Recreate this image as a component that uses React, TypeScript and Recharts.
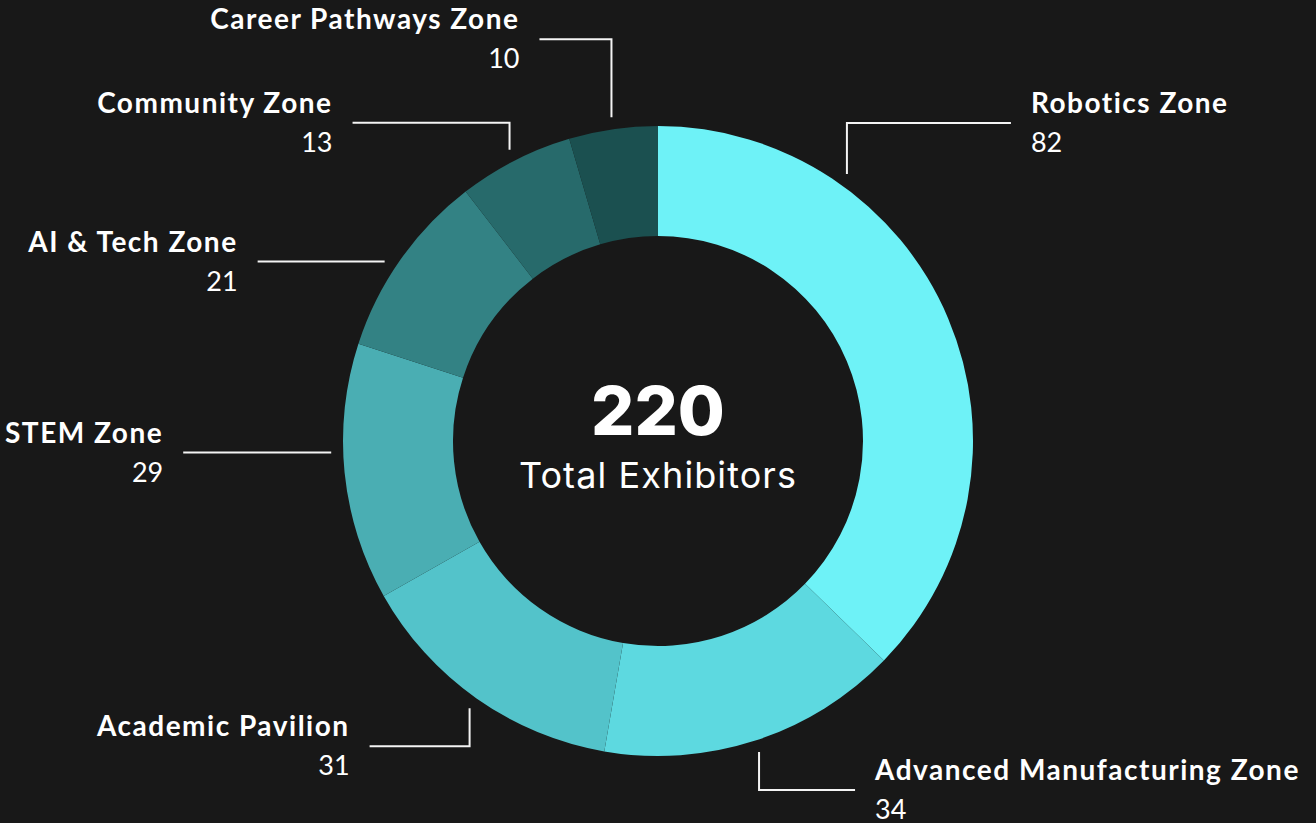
import { PieChart, Pie, Cell } from 'recharts'

const zones = [
  'Robotics Zone',
  'Advanced Manufacturing Zone',
  'Academic Pavilion',
  'STEM Zone',
  'AI & Tech Zone',
  'Community Zone',
  'Career Pathways Zone',
]
const exhibitors = [82, 34, 31, 29, 21, 13, 10]
const zoneColors = ['#6ef2f7', '#5dd9e0', '#53c3ca', '#4aaeb3', '#338284', '#276a6b', '#1b5050']

// leader line layout, per slice: angle nudge (deg, clockwise), vertical leg, horizontal leg
const labelNudge = [-31.8, 0, 0, 3.7, -1.9, 0, 0]
const labelRise = [51, 38, 38, 0, 0, 27, 78]
const labelRun = [164, 96, 100, 148, 127, 157, 72]

const W = 1316
const H = 823
const CX = 658
const CY = 441
const RAD = Math.PI / 180

const data = zones.map((zone, i) => ({ zone, count: exhibitors[i] }))
const total = exhibitors.reduce((a, b) => a + b, 0)

function ZoneLabel(props: any) {
  const { cx, cy, midAngle, outerRadius } = props
  const name = props.zone ?? props.name ?? props.payload?.zone
  const i = zones.indexOf(name)
  if (i < 0) return null
  const a = midAngle - labelNudge[i]
  const r = outerRadius + 12
  const sx = cx + r * Math.cos(-a * RAD)
  const sy = cy + r * Math.sin(-a * RAD)
  const dirX = sx >= cx ? 1 : -1
  const dirY = sy >= cy ? 1 : -1
  const ey = sy + dirY * labelRise[i]
  const ex = sx + dirX * labelRun[i]
  const tx = ex + dirX * 20
  const anchor = dirX > 0 ? 'start' : 'end'
  return (
    <g>
      <polyline
        points={`${sx},${sy} ${sx},${ey} ${ex},${ey}`}
        fill="none"
        stroke="#f4f4f4"
        strokeWidth={2}
      />
      <text x={tx} y={ey - 10} textAnchor={anchor} fill="#ffffff"
        style={{ fontFamily: 'Lato, sans-serif', fontWeight: 700, fontSize: 28, letterSpacing: 1.5 }}>
        {zones[i]}
      </text>
      <text x={tx} y={ey + 29} textAnchor={anchor} fill="#ffffff"
        style={{ fontFamily: 'Lato, sans-serif', fontWeight: 400, fontSize: 27 }}>
        {exhibitors[i]}
      </text>
    </g>
  )
}

export default function App() {
  return (
    <div style={{ position: 'absolute', left: 0, top: 0, width: W, height: H, background: '#181818' }}>
      <PieChart width={W} height={H} margin={{ top: 0, right: 0, bottom: 0, left: 0 }}>
        <Pie
          data={data}
          dataKey="count"
          nameKey="zone"
          cx={CX}
          cy={CY}
          innerRadius={205}
          outerRadius={315}
          startAngle={90}
          endAngle={-270}
          stroke="none"
          label={ZoneLabel}
          labelLine={false}
          isAnimationActive={false}
        >
          {data.map((d, i) => (
            <Cell key={d.zone} fill={zoneColors[i]} />
          ))}
        </Pie>
        <text x={CX} y={CY - 6} textAnchor="middle" fill="#ffffff"
          style={{ fontFamily: 'Inter, sans-serif', fontWeight: 800, fontSize: 68 }}>
          {total}
        </text>
        <text x={CX} y={CY + 47} textAnchor="middle" fill="#ffffff"
          style={{ fontFamily: 'Inter, sans-serif', fontWeight: 400, fontSize: 36, letterSpacing: 1.1 }}>
          Total Exhibitors
        </text>
      </PieChart>
    </div>
  )
}
